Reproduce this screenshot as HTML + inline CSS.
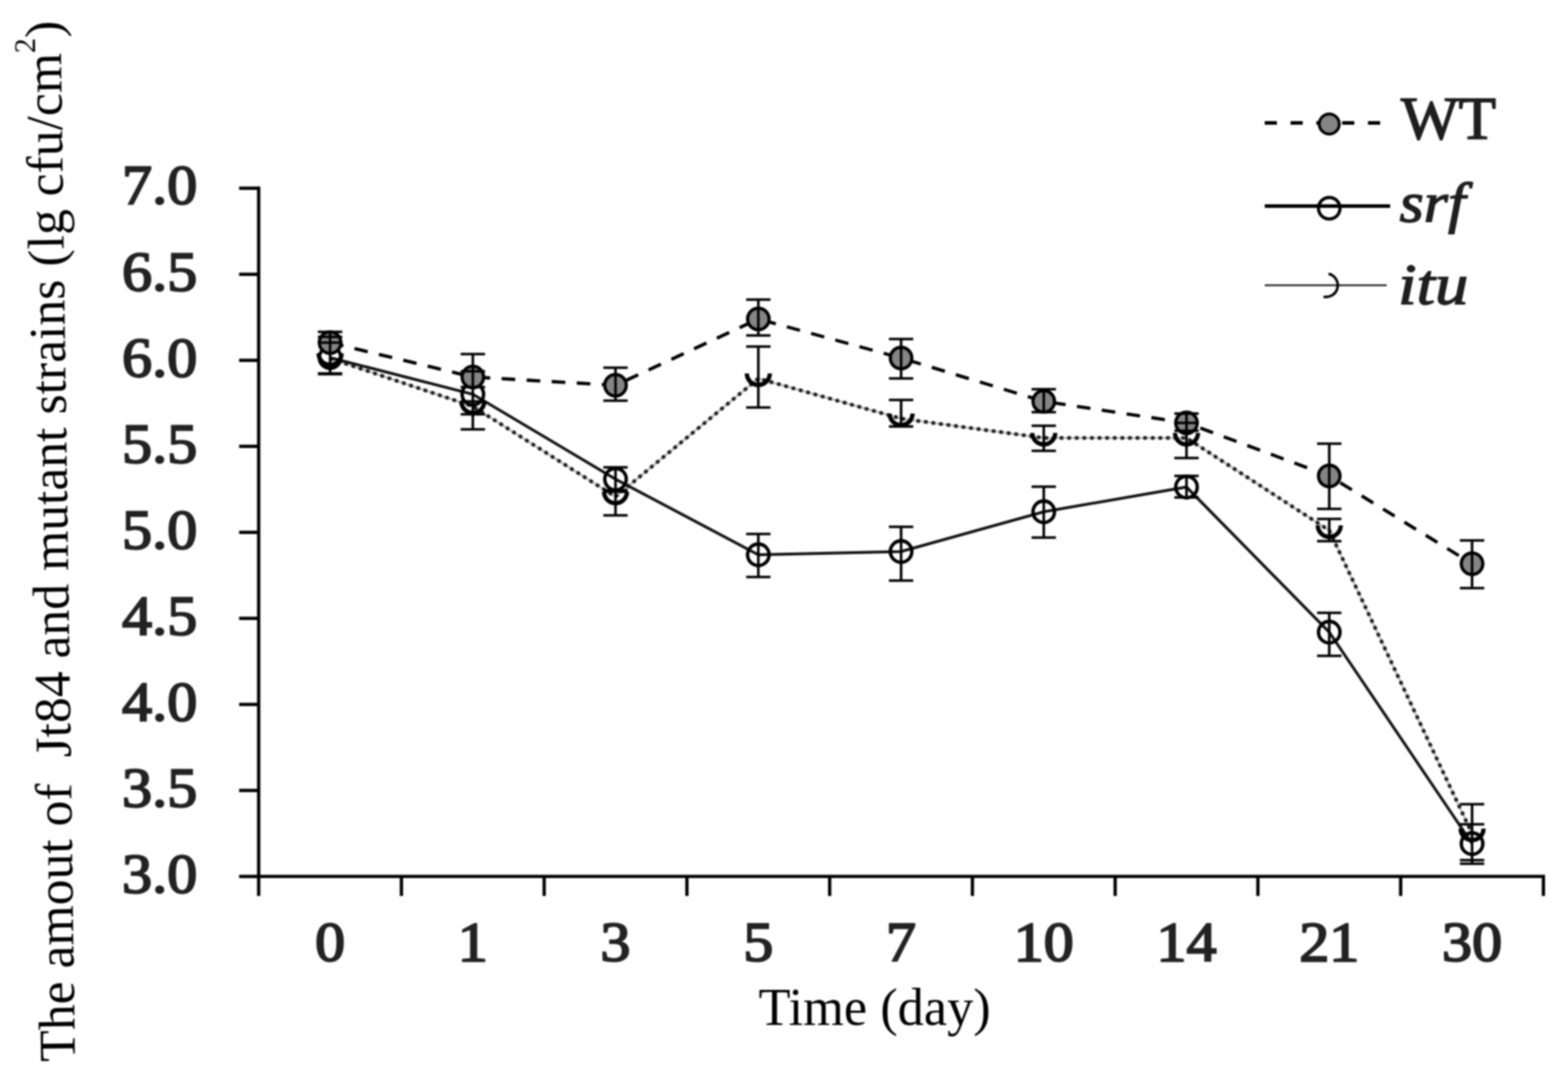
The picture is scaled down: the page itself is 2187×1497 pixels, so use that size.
<!DOCTYPE html>
<html><head><meta charset="utf-8"><title>Chart</title>
<style>
html,body{margin:0;padding:0;background:#fff;}
body{width:2187px;height:1497px;overflow:hidden;}
svg{display:block;filter:blur(1px);}
</style></head>
<body>
<svg width="2187" height="1497" viewBox="0 0 2187 1497">
<rect width="2187" height="1497" fill="#fff"/>
<g stroke="#000" stroke-width="4.6" fill="none" stroke-linecap="butt">
<line x1="360.8" y1="260.3" x2="360.8" y2="1250"/>
<line x1="360.8" y1="1222.8" x2="2155" y2="1222.8"/>
<line x1="333.5" y1="1222.8" x2="360.8" y2="1222.8"/>
<line x1="333.5" y1="1102.8" x2="360.8" y2="1102.8"/>
<line x1="333.5" y1="982.8" x2="360.8" y2="982.8"/>
<line x1="333.5" y1="862.7" x2="360.8" y2="862.7"/>
<line x1="333.5" y1="742.7" x2="360.8" y2="742.7"/>
<line x1="333.5" y1="622.7" x2="360.8" y2="622.7"/>
<line x1="333.5" y1="502.7" x2="360.8" y2="502.7"/>
<line x1="333.5" y1="382.7" x2="360.8" y2="382.7"/>
<line x1="333.5" y1="262.6" x2="360.8" y2="262.6"/>
<line x1="559.9" y1="1222.8" x2="559.9" y2="1250"/>
<line x1="759.0" y1="1222.8" x2="759.0" y2="1250"/>
<line x1="958.1" y1="1222.8" x2="958.1" y2="1250"/>
<line x1="1157.2" y1="1222.8" x2="1157.2" y2="1250"/>
<line x1="1356.3" y1="1222.8" x2="1356.3" y2="1250"/>
<line x1="1555.4" y1="1222.8" x2="1555.4" y2="1250"/>
<line x1="1754.5" y1="1222.8" x2="1754.5" y2="1250"/>
<line x1="1953.6" y1="1222.8" x2="1953.6" y2="1250"/>
<line x1="2152.7" y1="1222.8" x2="2152.7" y2="1250"/>
</g>
<g font-family="'Liberation Serif', serif" font-size="79" fill="#222" stroke="#222" stroke-width="2.7" text-anchor="end">
<text transform="translate(275,1244.6) scale(1.06,1)">3.0</text>
<text transform="translate(275,1124.6) scale(1.06,1)">3.5</text>
<text transform="translate(275,1004.6) scale(1.06,1)">4.0</text>
<text transform="translate(275,884.5) scale(1.06,1)">4.5</text>
<text transform="translate(275,764.5) scale(1.06,1)">5.0</text>
<text transform="translate(275,644.5) scale(1.06,1)">5.5</text>
<text transform="translate(275,524.5) scale(1.06,1)">6.0</text>
<text transform="translate(275,404.5) scale(1.06,1)">6.5</text>
<text transform="translate(275,284.4) scale(1.06,1)">7.0</text>
</g>
<g font-family="'Liberation Serif', serif" font-size="79" fill="#222" stroke="#222" stroke-width="2.7" text-anchor="middle">
<text transform="translate(460.4,1340) scale(1.06,1)">0</text>
<text transform="translate(659.5,1340) scale(1.06,1)">1</text>
<text transform="translate(858.5,1340) scale(1.06,1)">3</text>
<text transform="translate(1057.7,1340) scale(1.06,1)">5</text>
<text transform="translate(1256.8,1340) scale(1.06,1)">7</text>
<text transform="translate(1455.8,1340) scale(1.06,1)">10</text>
<text transform="translate(1654.9,1340) scale(1.06,1)">14</text>
<text transform="translate(1854.0,1340) scale(1.06,1)">21</text>
<text transform="translate(2053.2,1340) scale(1.06,1)">30</text>
</g>
<text x="1058" y="1430" font-family="'Liberation Serif', serif" font-size="73" fill="#000">Time (day)</text>
<text transform="translate(104.6,1481) rotate(-90.8)" font-family="'Liberation Serif', serif" font-size="72.1" fill="#000" style="white-space:pre">The amout of  Jt84 and mutant strains (lg cfu/cm<tspan font-size="42" dy="-36">2</tspan><tspan dy="36">)</tspan></text>
<path d="M460.4,500 L659.5,567 L858.5,693 L1057.7,528 L1256.8,584 L1455.8,611 L1654.9,611 L1854.0,740 L2053.2,1163" fill="none" stroke="#b0b0b0" stroke-width="2.4"/>
<path d="M460.4,500 L659.5,567 L858.5,693 L1057.7,528 L1256.8,584 L1455.8,611 L1654.9,611 L1854.0,740 L2053.2,1163" fill="none" stroke="#1a1a1a" stroke-width="5" stroke-dasharray="5,5.6"/>
<path d="M460.4,499 L659.5,550 L858.5,668.5 L1057.7,774 L1256.8,769.5 L1455.8,714 L1654.9,679.5 L1854.0,882 L2053.2,1177" fill="none" stroke="#111" stroke-width="4"/>
<path d="M460.4,478 L659.5,526 L858.5,537.5 L1057.7,445 L1256.8,499.5 L1455.8,560 L1654.9,590 L1854.0,664 L2053.2,786.5" fill="none" stroke="#000" stroke-width="4.6" stroke-dasharray="19,16"/>
<path d="M444.4,493 A16,16 0 0 0 476.4,493" fill="none" stroke="#000" stroke-width="6"/>
<path d="M643.5,560 A16,16 0 0 0 675.5,560" fill="none" stroke="#000" stroke-width="6"/>
<path d="M842.5,686 A16,16 0 0 0 874.5,686" fill="none" stroke="#000" stroke-width="6"/>
<path d="M1041.7,521 A16,16 0 0 0 1073.7,521" fill="none" stroke="#000" stroke-width="6"/>
<path d="M1240.8,577 A16,16 0 0 0 1272.8,577" fill="none" stroke="#000" stroke-width="6"/>
<path d="M1439.8,604 A16,16 0 0 0 1471.8,604" fill="none" stroke="#000" stroke-width="6"/>
<path d="M1638.9,604 A16,16 0 0 0 1670.9,604" fill="none" stroke="#000" stroke-width="6"/>
<path d="M1838.0,733 A16,16 0 0 0 1870.0,733" fill="none" stroke="#000" stroke-width="6"/>
<path d="M2037.2,1156 A16,16 0 0 0 2069.2,1156" fill="none" stroke="#000" stroke-width="6"/>
<circle cx="460.4" cy="499" r="15" fill="none" stroke="#000" stroke-width="4.8"/>
<circle cx="659.5" cy="550" r="15" fill="none" stroke="#000" stroke-width="4.8"/>
<circle cx="858.5" cy="668.5" r="15" fill="none" stroke="#000" stroke-width="4.8"/>
<circle cx="1057.7" cy="774" r="15" fill="none" stroke="#000" stroke-width="4.8"/>
<circle cx="1256.8" cy="769.5" r="15" fill="none" stroke="#000" stroke-width="4.8"/>
<circle cx="1455.8" cy="714" r="15" fill="none" stroke="#000" stroke-width="4.8"/>
<circle cx="1654.9" cy="679.5" r="15" fill="none" stroke="#000" stroke-width="4.8"/>
<circle cx="1854.0" cy="882" r="15" fill="none" stroke="#000" stroke-width="4.8"/>
<circle cx="2053.2" cy="1177" r="15" fill="none" stroke="#000" stroke-width="4.8"/>
<circle cx="460.4" cy="478" r="15" fill="#858585" stroke="#000" stroke-width="4.5"/>
<circle cx="659.5" cy="526" r="15" fill="#858585" stroke="#000" stroke-width="4.5"/>
<circle cx="858.5" cy="537.5" r="15" fill="#858585" stroke="#000" stroke-width="4.5"/>
<circle cx="1057.7" cy="445" r="15" fill="#858585" stroke="#000" stroke-width="4.5"/>
<circle cx="1256.8" cy="499.5" r="15" fill="#858585" stroke="#000" stroke-width="4.5"/>
<circle cx="1455.8" cy="560" r="15" fill="#858585" stroke="#000" stroke-width="4.5"/>
<circle cx="1654.9" cy="590" r="15" fill="#858585" stroke="#000" stroke-width="4.5"/>
<circle cx="1854.0" cy="664" r="15" fill="#858585" stroke="#000" stroke-width="4.5"/>
<circle cx="2053.2" cy="786.5" r="15" fill="#858585" stroke="#000" stroke-width="4.5"/>
<path d="M460.4,463V521M443.4,463h34M443.4,521h34M659.5,494V560M642.5,494h34M642.5,560h34M858.5,513V559M841.5,513h34M841.5,559h34M1057.7,418V468M1040.7,418h34M1040.7,468h34M1256.8,473V528M1239.8,473h34M1239.8,528h34M1455.8,543V575M1438.8,543h34M1438.8,575h34M1654.9,577V601M1637.9,577h34M1637.9,601h34M1854.0,619V710M1837.0,619h34M1837.0,710h34M2053.2,754V820.5M2036.2,754h34M2036.2,820.5h34M460.4,470V522M443.4,470h34M443.4,522h34M659.5,518V578M642.5,518h34M642.5,578h34M858.5,652V686M841.5,652h34M841.5,686h34M1057.7,745V805M1040.7,745h34M1040.7,805h34M1256.8,735V810M1239.8,735h34M1239.8,810h34M1455.8,679V750M1438.8,679h34M1438.8,750h34M1654.9,664V694M1637.9,664h34M1637.9,694h34M1854.0,855V915M1837.0,855h34M1837.0,915h34M2053.2,1150V1205M2036.2,1150h34M2036.2,1205h34M460.4,478V522M443.4,478h34M443.4,522h34M659.5,540V599M642.5,540h34M642.5,599h34M858.5,684V719M841.5,684h34M841.5,719h34M1057.7,483.5V568.5M1040.7,483.5h34M1040.7,568.5h34M1256.8,558V595M1239.8,558h34M1239.8,595h34M1455.8,594V629M1438.8,594h34M1438.8,629h34M1654.9,590V639M1637.9,590h34M1637.9,639h34M1854.0,724V755M1837.0,724h34M1837.0,755h34M2053.2,1122V1200M2036.2,1122h34M2036.2,1200h34" fill="none" stroke="#000" stroke-width="3.6"/>
<line x1="1764" y1="171.5" x2="1929" y2="171.5" stroke="#000" stroke-width="5" stroke-dasharray="17,19"/>
<circle cx="1854" cy="173" r="14" fill="#858585" stroke="#000" stroke-width="4"/>
<line x1="1764" y1="287.5" x2="1939" y2="287.5" stroke="#000" stroke-width="5"/>
<circle cx="1854" cy="290.5" r="15" fill="none" stroke="#000" stroke-width="4.5"/>
<line x1="1764" y1="398" x2="1934" y2="398" stroke="#222" stroke-width="2.6"/>
<path d="M1853,382 A16,16 0 0 1 1846,414" fill="none" stroke="#000" stroke-width="3.6"/>
<g font-family="'Liberation Serif', serif" font-size="84" fill="#1e1e1e" stroke="#1e1e1e" stroke-width="2">
<text transform="translate(1954,194) scale(1.015,1)">WT</text>
<text transform="translate(1952,309) scale(1.1,1)" font-style="italic" font-size="79" stroke-width="1.8">srf</text>
<text transform="translate(1950,424) scale(1.16,1)" font-style="italic" font-size="80" stroke-width="1.8">itu</text>
</g>
</svg>
</body></html>
